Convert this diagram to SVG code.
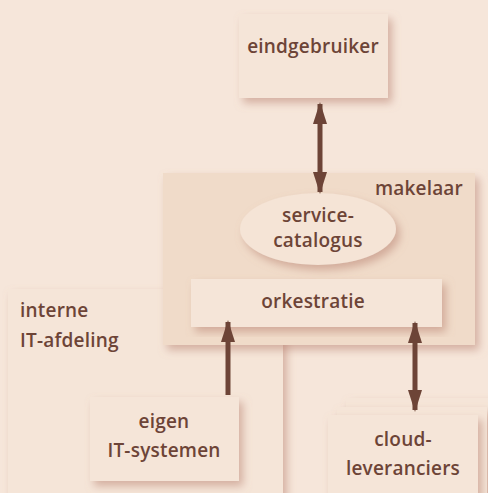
<svg xmlns="http://www.w3.org/2000/svg" width="488" height="493" viewBox="0 0 488 493">
<defs>
<filter id="sh" x="-20%" y="-20%" width="140%" height="140%">
<feDropShadow dx="4" dy="5" stdDeviation="4" flood-color="#b98472" flood-opacity="0.55"/>
</filter>
<marker id="arr" viewBox="0 0 22 14" refX="20" refY="7" markerWidth="22" markerHeight="14" markerUnits="userSpaceOnUse" orient="auto-start-reverse">
<path d="M0,0 L22,7 L0,14 Z" fill="#6d4437"/>
</marker>
</defs>
<style>
.box{fill:#f5e5d8;filter:url(#sh)}
.t{font-family:"Open Sans","Noto Sans",sans-serif;font-weight:600;font-size:19px;letter-spacing:0.2px;fill:#6d4437}
.c{text-anchor:middle}
.ln{stroke:#6d4437;stroke-width:5;fill:none;marker-start:url(#arr);marker-end:url(#arr)}
.ln1{stroke:#6d4437;stroke-width:5;fill:none;marker-end:url(#arr)}
</style>
<rect width="488" height="493" fill="#f6e6da"/>
<g id="interne-it">
<rect class="box" x="8" y="289" width="275" height="220"/>
<text class="t" x="20" y="317">interne</text>
<text class="t" x="20" y="347">IT-afdeling</text>
</g>
<g id="eindgebruiker">
<rect class="box" x="239" y="14" width="149" height="84"/>
<text class="t c" x="313" y="53">eindgebruiker</text>
</g>
<g id="makelaar">
<rect class="box" x="163" y="173" width="312" height="172" style="fill:#f0dbc9"/>
<text class="t" x="463" y="195" text-anchor="end">makelaar</text>
</g>
<g id="servicecatalogus">
<ellipse cx="318" cy="229" rx="78" ry="36" fill="#f5e4d6" filter="url(#sh)"/>
<text class="t c" x="318" y="222">service-</text>
<text class="t c" x="318" y="247">catalogus</text>
</g>
<g id="orkestratie">
<rect class="box" x="191" y="279" width="251" height="48"/>
<text class="t c" x="313" y="308">orkestratie</text>
</g>
<g id="eigen-it">
<rect class="box" x="90" y="397" width="149" height="84"/>
<text class="t c" x="164" y="428">eigen</text>
<text class="t c" x="164" y="457">IT-systemen</text>
</g>
<g id="cloud">
<rect class="box" x="346" y="398" width="160" height="110"/>
<rect class="box" x="337" y="407" width="150" height="110"/>
<rect class="box" x="328" y="415" width="150" height="100"/>
<text class="t c" x="403" y="446">cloud-</text>
<text class="t c" x="403" y="475">leveranciers</text>
</g>
<g id="connectors">
<line class="ln" x1="320" y1="104" x2="320" y2="192"/>
<line class="ln1" x1="228" y1="395" x2="228" y2="322"/>
<line class="ln" x1="415" y1="323" x2="415" y2="410"/>
</g>
</svg>
